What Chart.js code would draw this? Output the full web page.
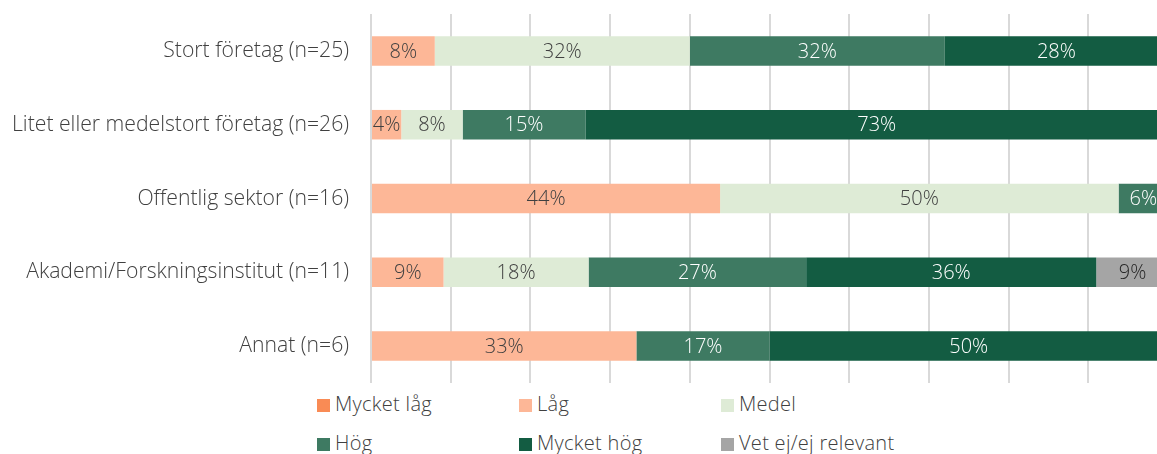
<!DOCTYPE html>
<html>
<head>
<meta charset="utf-8">
<script src="https://cdn.jsdelivr.net/npm/chart.js@4"></script>
<style>
  html, body { margin:0; padding:0; background:#fff; overflow:hidden; width:1157px; height:454px; }
  #wrap { position:absolute; left:0; top:0; width:1170px; height:454px; }
  #c { position:absolute; left:0; top:0; }
  .leg { position:absolute; font-family: "Open Sans", Lato, sans-serif; font-weight:300; font-size:20px; color:#404040; white-space:nowrap; line-height:20px; letter-spacing:0.3px; }
  .leg span.sw { display:inline-block; width:13px; height:13px; margin-right:5px; vertical-align:-1px; }
</style>
</head>
<body>
<div id="wrap">
  <canvas id="c" width="1170" height="390"></canvas>
  <div id="legend"></div>
</div>
<script>
const categories = [
  "Stort företag (n=25)",
  "Litet eller medelstort företag (n=26)",
  "Offentlig sektor (n=16)",
  "Akademi/Forskningsinstitut (n=11)",
  "Annat (n=6)"
];
const seriesNames = ["Mycket låg", "Låg", "Medel", "Hög", "Mycket hög", "Vet ej/ej relevant"];
const mycketLag = [0, 0, 0, 0, 0];
const lag       = [8, 3.8, 43.8, 9.1, 33.3];
const medel     = [32, 7.7, 50, 18.2, 0];
const hog       = [32, 15.4, 6.2, 27.3, 16.7];
const mycketHog = [28, 73.1, 0, 36.4, 50];
const vetEj     = [0, 0, 0, 9.1, 0];
const xTicks    = [0, 10, 20, 30, 40, 50, 60, 70, 80, 90, 100];

const colors = ["#F98B55", "#FDB797", "#DEEBD6", "#3E7A62", "#135C42", "#A5A5A5"];
const labelColors = ["#404040", "#404040", "#404040", "#ffffff", "#ffffff", "#262626"];
const allData = [mycketLag, lag, medel, hog, mycketHog, vetEj];

const FONT = '"Open Sans", Lato, sans-serif';

const valueLabels = {
  id: 'valueLabels',
  afterDatasetsDraw(chart) {
    const ctx = chart.ctx;
    ctx.save();
    ctx.font = '300 20px ' + FONT;
    ctx.textAlign = 'center';
    ctx.textBaseline = 'middle';
    chart.data.datasets.forEach((ds, di) => {
      const meta = chart.getDatasetMeta(di);
      meta.data.forEach((el, i) => {
        const v = ds.data[i];
        if (!v) return;
        ctx.fillStyle = labelColors[di];
        ctx.fillText(Math.round(v) + '%', (el.x + el.base) / 2, el.y + 1);
      });
    });
    ctx.restore();
  }
};

new Chart(document.getElementById('c'), {
  type: 'bar',
  data: {
    labels: categories,
    datasets: seriesNames.map((n, i) => ({
      label: n,
      data: allData[i],
      backgroundColor: colors[i],
      borderWidth: 0,
      barPercentage: 0.8,
      categoryPercentage: 0.5
    }))
  },
  options: {
    indexAxis: 'y',
    responsive: false,
    animation: false,
    layout: { padding: { top: 14, bottom: 7, left: 0, right: 2 } },
    plugins: { legend: { display: false }, tooltip: { enabled: false } },
    scales: {
      x: {
        stacked: true,
        min: 0, max: 100,
        afterBuildTicks(scale) { scale.ticks = xTicks.map(v => ({ value: v })); },
        afterFit(scale) { scale.height = 0; scale.paddingLeft = 0; scale.paddingRight = 0; },
        ticks: { display: false },
        grid: { color: '#D9D9D9', lineWidth: 2, drawTicks: false },
        border: { display: false }
      },
      y: {
        stacked: true,
        afterFit(scale) { scale.width = 371; scale.paddingTop = 0; scale.paddingBottom = 0; },
        grid: { display: false, drawTicks: false },
        border: { display: false },
        ticks: { color: '#404040', padding: 22, font: { family: FONT, size: 21.2, weight: 300 } }
      }
    }
  },
  plugins: [valueLabels]
});

// legend (3 columns x 2 rows)
const legendEl = document.getElementById('legend');
const colX = [317, 519, 721];
const rowY = [394, 433];
seriesNames.forEach((n, i) => {
  const d = document.createElement('div');
  d.className = 'leg';
  d.style.left = colX[i % 3] + 'px';
  d.style.top = rowY[Math.floor(i / 3)] + 'px';
  d.innerHTML = '<span class="sw" style="background:' + colors[i] + '"></span>' + n;
  legendEl.appendChild(d);
});
</script>
</body>
</html>
